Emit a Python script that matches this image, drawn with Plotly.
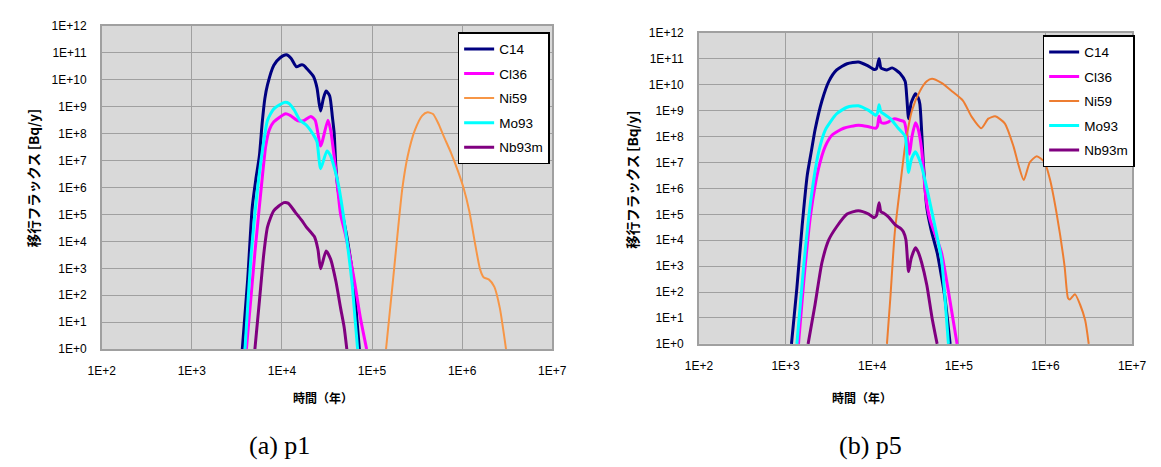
import plotly.graph_objects as go

# ---- (a) p1 : time [y] and migration flux [Bq/y] ----
c14_p1_t = [3630, 4170, 4680, 5130, 5620, 6030, 6460, 6920, 8130, 9550, 11200, 12600, 14500,
            16200, 17400, 18600, 22400, 24500, 25700, 26900, 28800, 30900, 33900, 36300, 38000,
            39800, 42700, 52500, 63100, 67600, 72400]
c14_p1_flux = [1, 398, 1.82e5, 2.0e6, 1.51e7, 2.4e8, 2.0e9, 6.61e9, 3.47e10, 6.61e10, 8.51e10,
               6.31e10, 3.02e10, 3.55e10, 3.47e10, 2.75e10, 1.32e10, 5.01e9, 1.58e9, 6.92e8,
               2.0e9, 3.8e9, 2.51e9, 4.17e8, 1.05e8, 5.01e6, 5.5e5, 1.51e4, 240, 15.1, 1]

cl36_p1_t = [4030, 5010, 5890, 6610, 7240, 8130, 11000, 12300, 15100, 17400, 20900, 23400,
             26900, 32400, 34700, 39800, 44700, 51300, 63100, 74100, 87100]
cl36_p1_flux = [1, 3800, 9.55e5, 3.47e7, 1.38e8, 2.75e8, 5.5e8, 4.79e8, 3.02e8, 3.02e8, 4.37e8,
                3.16e8, 3.47e7, 3.16e8, 1.38e8, 3.8e6, 1.05e5, 1.51e4, 417, 15.1, 1]

ni59_p1_t = [1.43e5, 1.72e5, 2.17e5, 2.49e5, 2.99e5, 3.61e5, 4.14e5, 4.75e5, 5.46e5, 6.27e5,
             7.53e5, 9.08e5, 1.04e6, 1.20e6, 1.37e6, 1.58e6, 1.73e6, 1.99e6, 2.28e6, 2.62e6, 3.07e6]
ni59_p1_flux = [1, 447, 9.33e5, 1.48e7, 1.35e8, 4.68e8, 6.17e8, 5.37e8, 2.34e8, 7.76e7, 1.95e7,
                3.72e6, 9.33e5, 1.35e5, 1.12e4, 933, 468, 380, 204, 33.9, 1]

mo93_p1_t = [3890, 4570, 5370, 6170, 6920, 8130, 10700, 12000, 13800, 15800, 18600, 22900,
             24500, 26900, 31600, 34700, 41700, 51300, 60300, 64600, 69200]
mo93_p1_flux = [1, 3800, 9.55e5, 3.47e7, 3.16e8, 8.32e8, 1.45e9, 1.32e9, 7.24e8, 3.16e8, 2.09e8,
                7.94e7, 5.01e7, 5.01e6, 2.29e7, 1.51e7, 1.66e6, 2.0e4, 240, 15.1, 1]

nb93m_p1_t = [5010, 5620, 6310, 6920, 8130, 10500, 11700, 14100, 16600, 18600, 22900, 25100,
              26900, 30900, 34700, 39800, 44700, 49000, 52500]
nb93m_p1_flux = [1, 60.3, 3800, 3.47e4, 1.38e5, 2.75e5, 2.63e5, 1.2e5, 6.03e4, 3.47e4, 1.51e4,
                 5010, 955, 4370, 2190, 316, 34.7, 6.61, 1]

# ---- (b) p5 ----
c14_p5_t = [1170, 1350, 1550, 1780, 2000, 2190, 2630, 3160, 3890, 5130, 6920, 8710, 10500,
            11200, 12000, 12600, 13500, 14800, 17000, 19100, 20900, 24000, 25100, 26300, 28200,
            31600, 33900, 35500, 38900, 42700, 47900, 56200, 63100, 69200, 79400]
c14_p5_flux = [1, 141, 3.31e4, 3.24e6, 3.16e7, 1.82e8, 2.4e9, 1.35e10, 3.72e10, 6.46e10, 7.59e10,
               5.62e10, 3.89e10, 4.17e10, 1.0e11, 4.47e10, 3.98e10, 3.72e10, 4.47e10, 3.55e10,
               2.75e10, 1.35e10, 3.16e9, 4.9e8, 2.0e9, 4.47e9, 3.16e9, 1.82e9, 1.02e7, 1.82e5,
               2.51e4, 3310, 398, 58.9, 1]

cl36_p5_t = [1410, 1620, 1950, 2400, 2880, 3470, 4680, 6920, 9120, 11000, 11500, 12000, 12600,
             13500, 15500, 17000, 18200, 20900, 23400, 25100, 26900, 28800, 31600, 33900, 37200,
             41700, 46800, 55000, 63100, 75900, 95500]
cl36_p5_flux = [1, 251, 1.02e5, 5.75e6, 4.27e7, 1.17e8, 2.09e8, 2.75e8, 2.4e8, 2.09e8, 2.51e8,
                6.03e8, 3.55e8, 3.24e8, 3.72e8, 4.47e8, 4.9e8, 4.27e8, 3.72e8, 1.26e8, 2.09e7,
                1.0e8, 3.39e8, 2.0e8, 3.24e7, 4.37e5, 5.89e4, 1.26e4, 3310, 105, 1]

ni59_p5_t = [14800, 16200, 18200, 20900, 24000, 28800, 35500, 42700, 49000, 63100, 83200,
             1.12e5, 1.41e5, 1.82e5, 2.19e5, 2.63e5, 3.39e5, 4.27e5, 4.90e5, 5.62e5, 6.61e5,
             7.94e5, 9.77e5, 1.12e6, 1.35e6, 1.66e6, 1.82e6, 1.91e6, 2.19e6, 2.51e6, 2.88e6, 3.16e6]
ni59_p5_flux = [1, 58.9, 1.86e4, 1.02e6, 4.27e7, 1.02e9, 5.62e9, 1.35e10, 1.7e10, 1.17e10, 5.62e9,
                2.4e9, 5.75e8, 2.09e8, 4.9e8, 6.03e8, 3.24e8, 4.27e7, 7.76e6, 2.09e6, 1.02e7,
                1.74e7, 1.02e7, 2.45e6, 1.02e5, 1050, 58.9, 51.3, 83.2, 33.1, 7.94, 1]

mo93_p5_t = [1350, 1620, 1950, 2400, 2880, 3890, 5130, 6920, 9120, 11000, 11500, 12000, 12600,
             13500, 16200, 20000, 24000, 25100, 26300, 28200, 31600, 34700, 37200, 42700, 51300,
             63100, 69200, 75900]
mo93_p5_flux = [1, 1050, 3.24e5, 2.4e7, 1.82e8, 7.59e8, 1.35e9, 1.55e9, 1.02e9, 6.61e8, 7.94e8,
                1.7e9, 8.91e8, 7.59e8, 4.9e8, 2.09e8, 1.02e8, 2.51e7, 4.07e6, 1.26e7, 2.57e7,
                1.41e7, 7.08e6, 1.02e6, 5.89e4, 1860, 58.9, 1]

nb93m_p5_t = [1820, 2190, 2630, 3160, 3890, 5130, 6920, 9120, 10500, 11200, 12000, 12600, 13500,
              15500, 18600, 21400, 22900, 24500, 26300, 28200, 31600, 33900, 37200, 42700, 49000,
              56200]
nb93m_p5_flux = [1, 33.1, 1380, 1.05e4, 3.31e4, 1.02e5, 1.38e5, 1.02e5, 7.41e4, 8.91e4, 2.82e5,
                 1.26e5, 1.12e5, 7.76e4, 3.8e4, 2.82e4, 2.14e4, 1.05e4, 617, 2000, 5130, 3550,
                 1380, 186, 10.5, 1]

nuclides = ["C14", "Cl36", "Ni59", "Mo93", "Nb93m"]
line_colors_p1 = ["#000080", "#FF00FF", "#F79646", "#00FFFF", "#800080"]
line_colors_p5 = ["#000080", "#FF00FF", "#ED7D31", "#00FFFF", "#800080"]
line_widths = [3, 3, 2, 3, 3]

x_tick_vals = [1e2, 1e3, 1e4, 1e5, 1e6, 1e7]
x_tick_text = ["1E+2", "1E+3", "1E+4", "1E+5", "1E+6", "1E+7"]
y_tick_vals = [1e0, 1e1, 1e2, 1e3, 1e4, 1e5, 1e6, 1e7, 1e8, 1e9, 1e10, 1e11, 1e12]
y_tick_text = ["1E+0", "1E+1", "1E+2", "1E+3", "1E+4", "1E+5", "1E+6", "1E+7", "1E+8",
               "1E+9", "1E+10", "1E+11", "1E+12"]

x_axis_title = "時間（年）"
y_axis_title = "移行フラックス [Bq/y]"
captions = ["(a) p1", "(b) p5"]

W, H = 1161, 467
fig = go.Figure()

series_p1 = [(c14_p1_t, c14_p1_flux), (cl36_p1_t, cl36_p1_flux), (ni59_p1_t, ni59_p1_flux),
             (mo93_p1_t, mo93_p1_flux), (nb93m_p1_t, nb93m_p1_flux)]
series_p5 = [(c14_p5_t, c14_p5_flux), (cl36_p5_t, cl36_p5_flux), (ni59_p5_t, ni59_p5_flux),
             (mo93_p5_t, mo93_p5_flux), (nb93m_p5_t, nb93m_p5_flux)]

for panel, (series, colors, xa, ya, leg) in enumerate([
        (series_p1, line_colors_p1, "x", "y", "legend"),
        (series_p5, line_colors_p5, "x2", "y2", "legend2")]):
    for i, (t, f) in enumerate(series):
        fig.add_trace(go.Scatter(
            x=t, y=f, name=nuclides[i], mode="lines",
            line=dict(color=colors[i], width=line_widths[i], shape="spline", smoothing=0.6),
            xaxis=xa, yaxis=ya, legend=leg, legendgroup=f"{leg}_{i}",
        ))

tick_font = dict(family="Liberation Sans, Arial, sans-serif", size=12, color="#000000")
grid_color = "#A0A0A0"

def x_axis(domain, anchor):
    return dict(type="log", range=[2, 7], domain=domain, anchor=anchor,
                tickvals=x_tick_vals, ticktext=x_tick_text, tickfont=tick_font,
                showgrid=True, gridcolor=grid_color, gridwidth=1.3,
                showline=True, linecolor=grid_color, linewidth=1.5, mirror=True,
                ticks="", ticklabelstandoff=10, zeroline=False, fixedrange=True)

def y_axis(domain, anchor):
    return dict(type="log", range=[0, 12], domain=domain, anchor=anchor,
                tickvals=y_tick_vals, ticktext=y_tick_text, tickfont=tick_font,
                showgrid=True, gridcolor=grid_color, gridwidth=1.3,
                showline=True, linecolor=grid_color, linewidth=1.5, mirror=True,
                ticks="", ticklabelstandoff=11, zeroline=False, fixedrange=True)

def legend_box(x_left, y_top):
    return dict(x=x_left / W, y=1 - y_top / H, xanchor="left", yanchor="top",
                xref="paper", yref="paper",
                bgcolor="#FFFFFF", bordercolor="#000000", borderwidth=1.5,
                font=dict(family="Liberation Sans, Arial, sans-serif", size=13.5, color="#000000"),
                tracegroupgap=4, itemwidth=30, traceorder="grouped")

fig.update_layout(
    width=W, height=H, autosize=False,
    margin=dict(l=0, r=0, t=0, b=0),
    paper_bgcolor="#FFFFFF", plot_bgcolor="#D9D9D9",
    xaxis=x_axis([90 / W, 552 / W], "y"),
    yaxis=y_axis([1 - 352.7 / H, 1 - 19.5 / H], "x"),
    xaxis2=x_axis([702.5 / W, 1146.7 / W], "y2"),
    yaxis2=y_axis([1 - 347.3 / H, 1 - 26.7 / H], "x2"),
    legend=legend_box(455, 26),
    legend2=legend_box(1055, 29),
    showlegend=True,
)

cjk_font = dict(family="Noto Sans CJK JP, sans-serif", color="#000000")
annotations = [
    dict(text=f"<b>{x_axis_title}</b>", x=317 / W, y=1 - 403 / H,
         font=dict(size=12, **cjk_font)),
    dict(text=f"<b>{x_axis_title}</b>", x=870 / W, y=1 - 403 / H,
         font=dict(size=12, **cjk_font)),
    dict(text=f"<b>{y_axis_title}</b>", x=19 / W, y=1 - 177 / H, textangle=-90,
         font=dict(size=13.5, **cjk_font)),
    dict(text=f"<b>{y_axis_title}</b>", x=634 / W, y=1 - 178 / H, textangle=-90,
         font=dict(size=13.5, **cjk_font)),
    dict(text=captions[0], x=272 / W, y=1 - 452 / H,
         font=dict(family="Liberation Serif, Times New Roman, serif", size=26, color="#000000")),
    dict(text=captions[1], x=878 / W, y=1 - 452 / H,
         font=dict(family="Liberation Serif, Times New Roman, serif", size=26, color="#000000")),
]
for a in annotations:
    a.update(xref="paper", yref="paper", xanchor="center", yanchor="middle", showarrow=False)
fig.update_layout(annotations=annotations)

fig.write_html("out.html")
